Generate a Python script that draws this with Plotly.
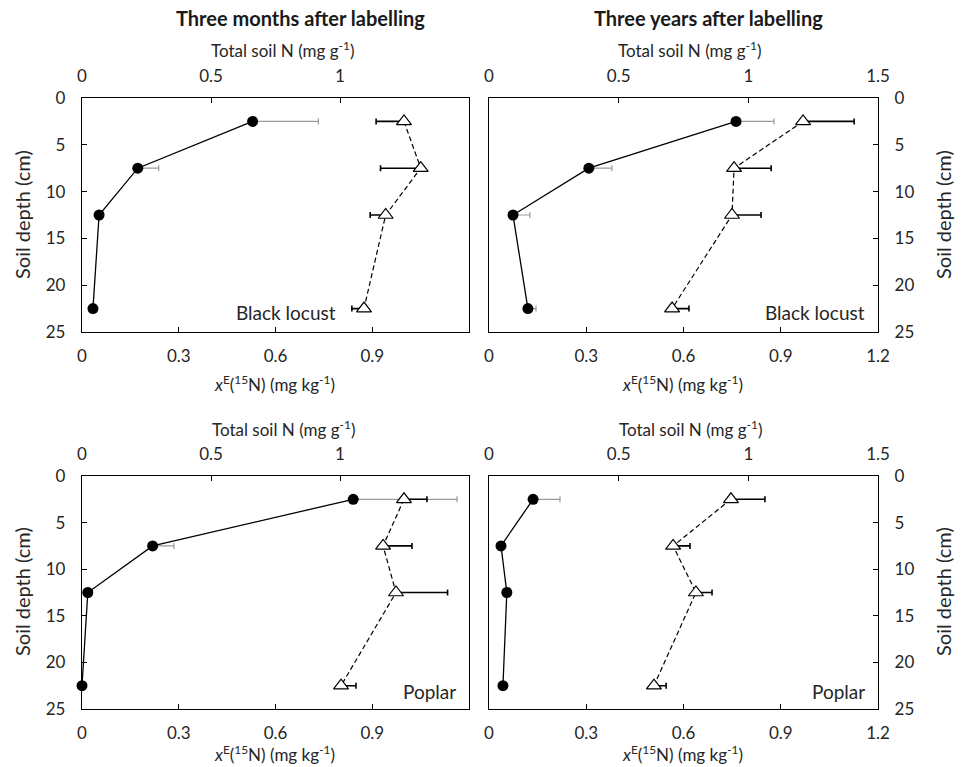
import plotly.graph_objects as go

depth = [2.5, 7.5, 12.5, 22.5]

# Panel 1: Three months, Black locust
p1_xe = [0.529, 0.173, 0.053, 0.034]
p1_xe_err = [0.204, 0.065, 0.0, 0.0]
p1_tn = [1.248, 1.313, 1.177, 1.093]
p1_tn_err_minus = [0.108, 0.156, 0.060, 0.047]

# Panel 2: Three years, Black locust
p2_xe = [0.762, 0.308, 0.074, 0.120]
p2_xe_err = [0.117, 0.071, 0.052, 0.025]
p2_tn = [1.211, 0.945, 0.937, 0.706]
p2_tn_err = [0.197, 0.143, 0.112, 0.065]

# Panel 3: Three months, Poplar
p3_xe = [0.841, 0.219, 0.018, 0.0]
p3_xe_err = [0.322, 0.066, 0.0, 0.0]
p3_tn = [1.248, 1.167, 1.217, 1.004]
p3_tn_err = [0.089, 0.112, 0.200, 0.058]

# Panel 4: Three years, Poplar
p4_xe = [0.136, 0.037, 0.055, 0.043]
p4_xe_err = [0.083, 0.0, 0.0, 0.0]
p4_tn = [0.933, 0.710, 0.798, 0.636]
p4_tn_err = [0.131, 0.065, 0.062, 0.047]

panel_titles = ["Three months after labelling", "Three years after labelling"]
species = ["Black locust", "Black locust", "Poplar", "Poplar"]

xe_ticks_left = [0, 0.3, 0.6, 0.9]
xe_ticks_right = [0, 0.3, 0.6, 0.9, 1.2]
tn_ticks_left = [0, 0.5, 1]
tn_ticks_right = [0, 0.5, 1, 1.5]
y_ticks = [0, 5, 10, 15, 20, 25]

FONT = "Lato, 'Open Sans', sans-serif"
TXT = "#262626"
W, H = 962, 767

def px(x):
    return x / W

def py(y):
    return 1 - y / H

# panel boxes in pixels: (left, right, top, bottom)
boxes = [(82, 469, 98, 332), (489, 878, 98, 332), (82, 469, 476, 709), (489, 878, 476, 709)]

fig = go.Figure()

data = [
    (p1_xe, p1_xe_err, p1_tn, p1_tn_err_minus, True),
    (p2_xe, p2_xe_err, p2_tn, p2_tn_err, False),
    (p3_xe, p3_xe_err, p3_tn, p3_tn_err, False),
    (p4_xe, p4_xe_err, p4_tn, p4_tn_err, False),
]

layout = dict()
for i, (xe, xe_err, tn, tn_err, minus) in enumerate(data):
    n = i + 1
    xb = f"x{2*n-1}"
    xt = f"x{2*n}"
    yy = f"y{n}"
    zeros = [0] * len(tn)
    # total soil N (top axis), triangles dashed
    fig.add_trace(go.Scatter(
        x=tn, y=depth, xaxis=xt, yaxis=yy, mode="lines+markers",
        line=dict(color="black", width=1.2, dash="5px,3px"),
        marker=dict(symbol="triangle-up", size=13, color="white",
                    line=dict(color="black", width=1.2)),
        error_x=dict(type="data", symmetric=False,
                     array=zeros if minus else tn_err,
                     arrayminus=tn_err if minus else zeros,
                     color="black", thickness=1.6, width=3),
        cliponaxis=False, showlegend=False))
    # xE(15N) (bottom axis), filled circles solid line
    fig.add_trace(go.Scatter(
        x=xe, y=depth, xaxis=xb, yaxis=yy, mode="lines+markers",
        line=dict(color="black", width=1.3),
        marker=dict(symbol="circle", size=11, color="black"),
        error_x=dict(type="data", symmetric=False, array=xe_err,
                     arrayminus=[0] * len(xe),
                     color="#9a9a9a", thickness=1.2, width=3),
        cliponaxis=False, showlegend=False))

    l, r, t, b = boxes[i]
    dom_x = [px(l), px(r)]
    dom_y = [py(b), py(t)]
    right = (i % 2 == 1)
    axis_common = dict(showline=True, linecolor="black", linewidth=1.3,
                       ticks="inside", ticklen=5, tickcolor="black", tickwidth=1,
                       showgrid=False, zeroline=False, automargin=False,
                       tickfont=dict(family=FONT, size=17, color=TXT))
    xt_b = xe_ticks_right if right else xe_ticks_left
    xt_t = tn_ticks_right if right else tn_ticks_left
    layout[f"xaxis{2*n-1}"] = dict(axis_common, domain=dom_x, anchor=yy, side="bottom",
                                   range=[0, 1.2], tickvals=xt_b,
                                   ticktext=[f"{v:g}" for v in xt_b],
                                   ticklabelstandoff=8)
    layout[f"xaxis{2*n}"] = dict(axis_common, domain=dom_x, anchor=yy, side="top",
                                 overlaying=xb, range=[0, 1.5], tickvals=xt_t,
                                 ticktext=[f"{v:g}" for v in xt_t],
                                 ticklabelstandoff=8)
    layout[f"yaxis{n}"] = dict(axis_common, domain=dom_y, anchor=xb,
                               side="right" if right else "left", mirror=True,
                               range=[25, 0], tickvals=y_ticks,
                               ticklabelstandoff=12)

annotations = []
def ann(text, x, y, size=17, bold=False, xanchor="center", yanchor="middle", textangle=0):
    annotations.append(dict(text=f"<b>{text}</b>" if bold else text,
                            x=x, y=y, xref="paper", yref="paper",
                            xanchor=xanchor, yanchor=yanchor, showarrow=False,
                            textangle=textangle, borderpad=0,
                            font=dict(family=FONT, size=size, color="#1a1a1a" if bold else TXT)))

ann(panel_titles[0], px(300), py(18), size=20, bold=True)
ann(panel_titles[1], px(708), py(18), size=20, bold=True)

tn_title = "Total soil N (mg g<sup>-1</sup>)"
xe_title = "<i>x</i><sup>E</sup>(<sup>15</sup>N) (mg kg<sup>-1</sup>)"
ann(tn_title, px(282), py(50), size=17)
ann(tn_title, px(689), py(50), size=17)
ann(tn_title, px(283), py(429), size=17)
ann(tn_title, px(690), py(429), size=17)
ann(xe_title, px(274), py(383), size=17)
ann(xe_title, px(682), py(383), size=17)
ann(xe_title, px(274), py(766), size=17, yanchor="bottom")
ann(xe_title, px(682), py(766), size=17, yanchor="bottom")

ann("Soil depth (cm)", px(22), py(215), size=20, textangle=-90)
ann("Soil depth (cm)", px(22), py(592), size=20, textangle=-90)
ann("Soil depth (cm)", px(943), py(215), size=20, textangle=-90)
ann("Soil depth (cm)", px(943), py(592), size=20, textangle=-90)

ann(species[0], px(337), py(312), size=19, xanchor="right")
ann(species[1], px(866), py(312), size=19, xanchor="right")
ann(species[2], px(457), py(691), size=19, xanchor="right")
ann(species[3], px(866), py(691), size=19, xanchor="right")

fig.update_layout(**layout)
fig.update_layout(width=W, height=H, margin=dict(l=0, r=0, t=0, b=0, autoexpand=False),
                  paper_bgcolor="white", plot_bgcolor="white",
                  annotations=annotations, showlegend=False,
                  font=dict(family=FONT, color=TXT))

fig.write_html("out.html", config={"displayModeBar": False},
               post_script="document.body.style.margin='0px';document.body.style.overflow='hidden';")
